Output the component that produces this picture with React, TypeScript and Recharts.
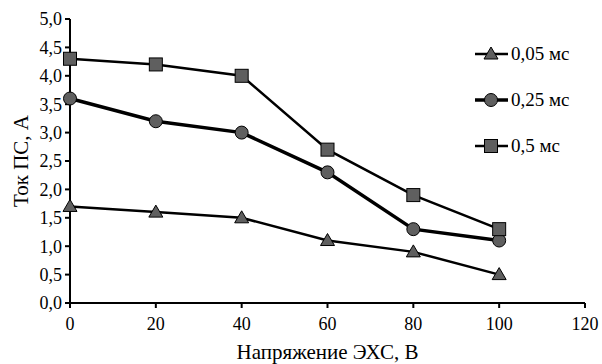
import { LineChart, Line, XAxis, YAxis } from 'recharts'

const voltages = [0, 20, 40, 60, 80, 100]
const current005 = [1.7, 1.6, 1.5, 1.1, 0.9, 0.5]
const current025 = [3.6, 3.2, 3.0, 2.3, 1.3, 1.1]
const current05 = [4.3, 4.2, 4.0, 2.7, 1.9, 1.3]
const xTicks = [0, 20, 40, 60, 80, 100, 120]
const yTicks = [0, 0.5, 1, 1.5, 2, 2.5, 3, 3.5, 4, 4.5, 5]

const seriesList = [
  { key: 's005', name: '0,05 мс', shape: 'triangle', width: 2.5 },
  { key: 's025', name: '0,25 мс', shape: 'circle', width: 3.5 },
  { key: 's05', name: '0,5 мс', shape: 'square', width: 2.5 },
]

const data = voltages.map((v, i) => ({
  v,
  s005: current005[i],
  s025: current025[i],
  s05: current05[i],
}))

const FILL = '#5f5f5f'
const FONT = '"Liberation Serif", "Times New Roman", serif'

function Marker({ cx, cy, shape }: { cx: number; cy: number; shape: string }) {
  if (shape === 'triangle') {
    return (
      <polygon
        points={`${cx},${cy - 7} ${cx - 7},${cy + 5} ${cx + 7},${cy + 5}`}
        fill={FILL}
        stroke="#000"
        strokeWidth={1}
      />
    )
  }
  if (shape === 'circle') {
    return <circle cx={cx} cy={cy} r={6.5} fill={FILL} stroke="#000" strokeWidth={1} />
  }
  return <rect x={cx - 6.5} y={cy - 6.5} width={13} height={13} fill={FILL} stroke="#000" strokeWidth={1} />
}

const fmt = (v: number) => v.toFixed(1).replace('.', ',')

function LegendBox() {
  return (
    <div style={{ position: 'absolute', left: 475, top: 31, fontFamily: FONT, fontSize: 19 }}>
      {seriesList.map((s) => (
        <div key={s.key} style={{ display: 'flex', alignItems: 'center', height: 46 }}>
          <svg width={34} height={16}>
            <line x1={0} y1={8} x2={33} y2={8} stroke="#000" strokeWidth={s.width} />
            <Marker cx={16} cy={8} shape={s.shape} />
          </svg>
          <span style={{ marginLeft: 2 }}>{s.name}</span>
        </div>
      ))}
    </div>
  )
}

export default function App() {
  return (
    <div style={{ position: 'absolute', left: 0, top: 0, background: '#fff', width: 602, height: 364 }}>
      <LineChart width={602} height={364} data={data} margin={{ top: 19, right: 17, left: 0, bottom: 0 }}>
        <XAxis
          dataKey="v"
          type="number"
          domain={[0, 120]}
          ticks={xTicks}
          height={61}
          tickSize={5}
          tickMargin={9}
          axisLine={{ stroke: '#000', strokeWidth: 2 }}
          tickLine={{ stroke: '#000', strokeWidth: 2 }}
          tick={{ fill: '#000', fontSize: 18, fontFamily: FONT }}
          label={{
            value: 'Напряжение ЭХС, В',
            position: 'insideBottom',
            offset: 5,
            fill: '#000',
            fontSize: 21,
            fontFamily: FONT,
          }}
        />
        <YAxis
          type="number"
          domain={[0, 5]}
          ticks={yTicks}
          width={70}
          tickSize={5}
          tickMargin={3}
          tickFormatter={fmt}
          axisLine={{ stroke: '#000', strokeWidth: 2 }}
          tickLine={{ stroke: '#000', strokeWidth: 2 }}
          tick={{ fill: '#000', fontSize: 18, fontFamily: FONT }}
          label={{
            value: 'Ток ПС, А',
            angle: -90,
            position: 'insideLeft',
            offset: 21,
            fill: '#000',
            fontSize: 21,
            fontFamily: FONT,
            style: { textAnchor: 'middle' },
          }}
        />
        {seriesList.map((s) => (
          <Line
            key={s.key}
            dataKey={s.key}
            name={s.name}
            type="linear"
            stroke="#000"
            strokeWidth={s.width}
            isAnimationActive={false}
            dot={(p: any) => <Marker key={`${s.key}-${p.index}`} cx={p.cx} cy={p.cy} shape={s.shape} />}
            activeDot={false}
          />
        ))}
      </LineChart>
      <LegendBox />
    </div>
  )
}
